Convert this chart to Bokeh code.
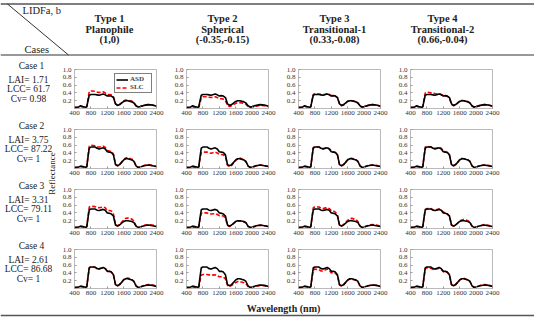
import math
from bokeh.plotting import figure
from bokeh.layouts import column, row
from bokeh.models import (Range1d, FixedTicker, PrintfTickFormatter, Legend,
                          LegendItem, Label)
from bokeh.embed import file_html
from bokeh.resources import INLINE

# ---------------- data ----------------
WL = [400, 500, 550, 600, 670, 700, 730, 760, 800, 900, 950, 1000, 1100, 1150,
      1200, 1250, 1300, 1350, 1400, 1450, 1500, 1600, 1650, 1700, 1800, 1850,
      1900, 1950, 2000, 2100, 2200, 2300, 2400]

ASD_CASE1 = [0.03, 0.04, 0.07, 0.05, 0.03, 0.05, 0.20, 0.34, 0.36, 0.36, 0.35, 0.34, 0.37, 0.35, 0.32, 0.33, 0.32, 0.28, 0.12, 0.08, 0.10, 0.18, 0.20, 0.20, 0.17, 0.14, 0.07, 0.04, 0.05, 0.08, 0.10, 0.09, 0.06]
ASD_CASE2 = [0.03, 0.04, 0.06, 0.05, 0.03, 0.05, 0.30, 0.52, 0.55, 0.55, 0.52, 0.50, 0.53, 0.50, 0.43, 0.42, 0.41, 0.35, 0.10, 0.07, 0.10, 0.22, 0.25, 0.25, 0.22, 0.18, 0.07, 0.03, 0.04, 0.07, 0.09, 0.07, 0.05]
ASD_CASE3 = [0.03, 0.04, 0.06, 0.05, 0.03, 0.05, 0.28, 0.48, 0.50, 0.50, 0.47, 0.46, 0.49, 0.47, 0.40, 0.39, 0.37, 0.32, 0.09, 0.06, 0.09, 0.18, 0.20, 0.20, 0.18, 0.15, 0.06, 0.03, 0.04, 0.07, 0.09, 0.07, 0.05]
ASD_CASE4 = [0.03, 0.04, 0.06, 0.05, 0.03, 0.05, 0.30, 0.53, 0.55, 0.55, 0.51, 0.50, 0.54, 0.51, 0.44, 0.44, 0.42, 0.35, 0.10, 0.07, 0.10, 0.22, 0.25, 0.25, 0.22, 0.18, 0.07, 0.03, 0.04, 0.07, 0.09, 0.08, 0.05]

SLC_CASE1 = [
    [0.02, 0.03, 0.05, 0.04, 0.02, 0.04, 0.25, 0.43, 0.45, 0.44, 0.42, 0.41, 0.43, 0.40, 0.36, 0.36, 0.35, 0.30, 0.12, 0.08, 0.10, 0.20, 0.22, 0.21, 0.19, 0.15, 0.07, 0.04, 0.05, 0.08, 0.10, 0.09, 0.06],
    [0.02, 0.02, 0.04, 0.03, 0.02, 0.03, 0.15, 0.27, 0.30, 0.30, 0.29, 0.28, 0.30, 0.28, 0.25, 0.25, 0.24, 0.20, 0.08, 0.05, 0.07, 0.13, 0.15, 0.15, 0.13, 0.11, 0.05, 0.03, 0.03, 0.06, 0.08, 0.07, 0.05],
    [0.02, 0.03, 0.06, 0.04, 0.02, 0.04, 0.22, 0.36, 0.38, 0.37, 0.36, 0.35, 0.38, 0.36, 0.33, 0.33, 0.32, 0.28, 0.11, 0.07, 0.09, 0.19, 0.21, 0.20, 0.18, 0.14, 0.06, 0.03, 0.04, 0.08, 0.10, 0.09, 0.06],
    [0.02, 0.03, 0.06, 0.04, 0.02, 0.04, 0.24, 0.40, 0.42, 0.40, 0.40, 0.38, 0.38, 0.36, 0.34, 0.33, 0.31, 0.27, 0.10, 0.07, 0.09, 0.19, 0.21, 0.20, 0.18, 0.14, 0.06, 0.03, 0.04, 0.08, 0.10, 0.09, 0.06],
]
SLC_CASE2 = [
    [0.02, 0.03, 0.05, 0.04, 0.02, 0.04, 0.33, 0.57, 0.60, 0.58, 0.55, 0.55, 0.57, 0.54, 0.46, 0.45, 0.43, 0.37, 0.11, 0.07, 0.10, 0.23, 0.27, 0.28, 0.24, 0.19, 0.07, 0.03, 0.04, 0.08, 0.10, 0.08, 0.05],
    [0.02, 0.02, 0.04, 0.03, 0.02, 0.03, 0.25, 0.40, 0.42, 0.42, 0.40, 0.39, 0.42, 0.40, 0.36, 0.36, 0.35, 0.30, 0.08, 0.05, 0.08, 0.21, 0.25, 0.27, 0.22, 0.17, 0.06, 0.03, 0.03, 0.07, 0.09, 0.07, 0.05],
    [0.02, 0.03, 0.05, 0.04, 0.02, 0.04, 0.30, 0.54, 0.56, 0.55, 0.52, 0.51, 0.54, 0.51, 0.45, 0.43, 0.41, 0.35, 0.10, 0.07, 0.10, 0.23, 0.26, 0.26, 0.23, 0.18, 0.07, 0.03, 0.04, 0.08, 0.09, 0.08, 0.05],
    [0.02, 0.03, 0.05, 0.04, 0.02, 0.04, 0.31, 0.55, 0.57, 0.55, 0.52, 0.52, 0.54, 0.52, 0.45, 0.43, 0.41, 0.35, 0.10, 0.07, 0.10, 0.23, 0.26, 0.25, 0.22, 0.18, 0.07, 0.03, 0.04, 0.08, 0.09, 0.08, 0.05],
]
SLC_CASE3 = [
    [0.02, 0.03, 0.05, 0.04, 0.02, 0.04, 0.32, 0.55, 0.57, 0.56, 0.54, 0.53, 0.55, 0.53, 0.46, 0.46, 0.45, 0.37, 0.10, 0.07, 0.10, 0.22, 0.26, 0.27, 0.24, 0.19, 0.07, 0.03, 0.04, 0.08, 0.10, 0.09, 0.06],
    [0.02, 0.02, 0.04, 0.03, 0.02, 0.03, 0.24, 0.39, 0.40, 0.40, 0.38, 0.37, 0.38, 0.36, 0.33, 0.33, 0.32, 0.27, 0.08, 0.05, 0.08, 0.17, 0.20, 0.19, 0.17, 0.14, 0.05, 0.03, 0.03, 0.06, 0.08, 0.07, 0.05],
    [0.02, 0.03, 0.05, 0.04, 0.02, 0.04, 0.30, 0.53, 0.55, 0.55, 0.52, 0.51, 0.54, 0.51, 0.46, 0.45, 0.42, 0.35, 0.09, 0.07, 0.10, 0.21, 0.25, 0.26, 0.23, 0.18, 0.07, 0.03, 0.04, 0.08, 0.10, 0.09, 0.06],
    [0.02, 0.03, 0.05, 0.04, 0.02, 0.04, 0.28, 0.49, 0.51, 0.51, 0.48, 0.47, 0.50, 0.47, 0.42, 0.40, 0.37, 0.32, 0.09, 0.06, 0.09, 0.19, 0.22, 0.23, 0.20, 0.16, 0.06, 0.03, 0.04, 0.07, 0.10, 0.08, 0.05],
]
SLC_CASE4 = [
    [0.02, 0.03, 0.05, 0.04, 0.02, 0.04, 0.30, 0.53, 0.56, 0.54, 0.52, 0.51, 0.53, 0.51, 0.45, 0.44, 0.42, 0.35, 0.10, 0.07, 0.10, 0.23, 0.27, 0.27, 0.23, 0.18, 0.07, 0.03, 0.04, 0.08, 0.10, 0.09, 0.06],
    [0.02, 0.02, 0.04, 0.03, 0.02, 0.03, 0.20, 0.34, 0.36, 0.36, 0.35, 0.34, 0.35, 0.33, 0.30, 0.30, 0.29, 0.25, 0.08, 0.05, 0.08, 0.15, 0.18, 0.18, 0.15, 0.12, 0.05, 0.03, 0.03, 0.06, 0.08, 0.07, 0.05],
    [0.02, 0.03, 0.05, 0.04, 0.02, 0.04, 0.28, 0.47, 0.50, 0.48, 0.45, 0.45, 0.50, 0.47, 0.40, 0.41, 0.39, 0.33, 0.09, 0.06, 0.09, 0.21, 0.24, 0.24, 0.21, 0.17, 0.06, 0.03, 0.04, 0.07, 0.09, 0.08, 0.05],
    [0.02, 0.03, 0.05, 0.04, 0.02, 0.04, 0.29, 0.51, 0.53, 0.52, 0.49, 0.49, 0.52, 0.49, 0.43, 0.43, 0.41, 0.34, 0.10, 0.07, 0.10, 0.22, 0.25, 0.26, 0.22, 0.18, 0.07, 0.03, 0.04, 0.08, 0.10, 0.09, 0.06],
]

CASES = ["Case 1", "Case 2", "Case 3", "Case 4"]
LAI = ["1.71", "3.75", "3.31", "2.61"]
LCC = ["61.7", "87.22", "79.11", "86.68"]
CV = ["0.98", "1", "1", "1"]
TYPES = ["Type 1", "Type 2", "Type 3", "Type 4"]
TYPE_NAMES = ["Planophile", "Spherical", "Transitional-1", "Transitional-2"]
LIDF_AB = ["(1,0)", "(-0.35,-0.15)", "(0.33,-0.08)", "(0.66,-0.04)"]
X_TICKS = [400, 800, 1200, 1600, 2000, 2400]
Y_TICKS = [0.2, 0.4, 0.6, 0.8, 1.0]

ASD_ALL = [ASD_CASE1, ASD_CASE2, ASD_CASE3, ASD_CASE4]
SLC_ALL = [SLC_CASE1, SLC_CASE2, SLC_CASE3, SLC_CASE4]

# ---------------- style / layout ----------------
SERIF = "Liberation Serif"
TXT = "#222222"
W = 534
HEAD_H = 58
FOOT_H = 16
LEFT_W = 56
CELL_W = 112
CELL_H = 60
FIRST_EXTRA = 4
BODY_H = 4 * CELL_H + FIRST_EXTRA
HEAD_CENTERS = [109, 222, 334, 442]


def blank(width, height):
    p = figure(width=width, height=height, x_range=Range1d(0, width),
               y_range=Range1d(height, 0), toolbar_location=None,
               output_backend="svg", min_border=0,
               x_axis_location=None, y_axis_location=None)
    p.grid.visible = False
    p.outline_line_color = None
    return p


def lab(p, x, y, text, size="10.5px", style="normal", align="center", angle=0):
    p.add_layout(Label(x=x, y=y, text=text, text_font=SERIF,
                       text_font_size=size, text_font_style=style,
                       text_align=align, text_baseline="middle",
                       text_color=TXT, angle=angle))


# header
head = blank(W, HEAD_H)
head.segment(x0=[0], y0=[3.5], x1=[W], y1=[3.5], line_color="#555555", line_width=1.6)
head.segment(x0=[0], y0=[54.5], x1=[W], y1=[54.5], line_color="#333333", line_width=1)
head.segment(x0=[7], y0=[3.5], x1=[68], y1=[54.5], line_color="#333333", line_width=1)
lab(head, 22, 10, "LIDFa, b", align="left")
lab(head, 24, 48.5, "Cases", align="left")
for i in range(4):
    lab(head, HEAD_CENTERS[i], 18, TYPES[i], style="bold")
    lab(head, HEAD_CENTERS[i], 28.5, TYPE_NAMES[i], style="bold")
    lab(head, HEAD_CENTERS[i], 39, LIDF_AB[i], style="bold")

# left labels (frame tops of the rows, in this figure's pixels)
left = blank(LEFT_W, BODY_H)
for i in range(4):
    top = 7 + FIRST_EXTRA + CELL_H * i
    lab(left, 31, top - 4, CASES[i], size="9.5px")
    lab(left, 28, top + 10, "LAI= " + LAI[i], size="9.5px")
    lab(left, 28, top + 19.5, "LCC= " + LCC[i], size="9.5px")
    lab(left, 28, top + 29, "Cv= " + CV[i], size="9.5px")
lab(left, 51.5, 115, "Reflectance", size="9px", angle=math.pi / 2)


def subplot(asd, slc, extra_top=0, with_legend=False):
    p = figure(width=CELL_W, height=CELL_H + extra_top, x_range=Range1d(400, 2400),
               y_range=Range1d(0, 1.0), toolbar_location=None,
               output_backend="svg", min_border_left=18, min_border_right=12,
               min_border_top=7 + extra_top, min_border_bottom=14)
    p.grid.visible = False
    p.outline_line_color = "#a8a8a8"
    p.outline_line_width = 0.8
    r_slc = p.line(WL, slc, line_color="#ff0000", line_width=1.6, line_dash="4 2")
    r_asd = p.line(WL, asd, line_color="black", line_width=1.6)
    p.xaxis.ticker = FixedTicker(ticks=X_TICKS)
    p.yaxis.ticker = FixedTicker(ticks=Y_TICKS)
    p.yaxis.formatter = PrintfTickFormatter(format="%.1f")
    for ax in (p.xaxis, p.yaxis):
        ax.axis_line_color = None
        ax.major_tick_in = 2
        ax.major_tick_out = 0
        ax.major_tick_line_color = "#999999"
        ax.minor_tick_line_color = None
        ax.major_label_text_font = SERIF
        ax.major_label_text_font_size = "7px"
        ax.major_label_text_color = "#333333"
    p.xaxis.major_label_standoff = 2
    p.yaxis.major_label_standoff = 3
    if with_legend:
        lg = Legend(items=[LegendItem(label="ASD", renderers=[r_asd]),
                           LegendItem(label="SLC", renderers=[r_slc])],
                    location="top_right", label_text_font=SERIF,
                    label_text_font_size="7px", label_text_font_style="bold",
                    label_text_line_height=0.9,
                    glyph_width=12, glyph_height=5, label_height=5,
                    label_standoff=2, spacing=0, padding=1, margin=4,
                    border_line_color="black", border_line_width=0.7)
        p.add_layout(lg)
    return p


rows = []
for i in range(4):
    cells = [subplot(ASD_ALL[i], SLC_ALL[i][j],
                     extra_top=FIRST_EXTRA if i == 0 else 0,
                     with_legend=(i == 0 and j == 0))
             for j in range(4)]
    rows.append(row(*cells))
body = row(left, column(*rows))

# footer
foot = blank(W, FOOT_H)
lab(foot, 283, 5.5, "Wavelength (nm)", size="10px", style="bold")
foot.segment(x0=[0], y0=[13], x1=[W], y1=[13], line_color="#555555", line_width=1.6)

layout = column(head, body, foot)
open("out.html", "w").write(file_html(layout, INLINE))
